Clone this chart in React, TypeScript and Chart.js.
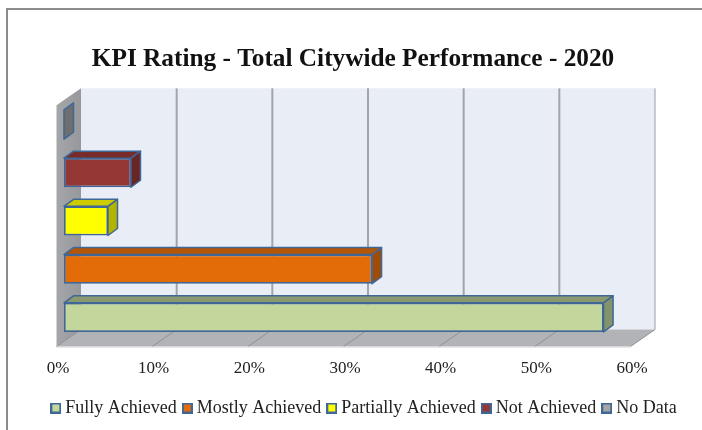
import React, { useEffect, useRef } from "react";
import { Chart, registerables } from "chart.js";

Chart.register(...registerables);

const categories = ["Fully Achieved", "Mostly Achieved", "Partially Achieved", "Not Achieved", "No Data"];
const values = [56.4, 32.2, 4.6, 7.0, 0];
const frontColors = ["#c3d69b", "#e36c09", "#ffff00", "#953735", "#a6a6a6"];
const topColors = ["#8a9a6e", "#b35607", "#cccc00", "#772c2a", "#6e6e6e"];
const sideColors = ["#84936a", "#a04c06", "#b3b300", "#682624", "#6e6e6e"];
const xTicks = [0, 10, 20, 30, 40, 50, 60];
const titleText = "KPI Rating - Total Citywide Performance - 2020";

const SERIF = "'Liberation Serif', 'Times New Roman', serif";
const EDGE = "#3f6797";

function swatch(color: string) {
  const c = document.createElement("canvas");
  c.width = 11;
  c.height = 11;
  const x = c.getContext("2d")!;
  x.fillStyle = color;
  x.fillRect(0, 0, 11, 11);
  x.strokeStyle = EDGE;
  x.lineWidth = 2;
  x.strokeRect(1, 1, 9, 9);
  return c;
}

function poly(ctx: CanvasRenderingContext2D, pts: number[][], fill: string, stroke?: string, lw = 1) {
  ctx.beginPath();
  pts.forEach((p, i) => (i ? ctx.lineTo(p[0], p[1]) : ctx.moveTo(p[0], p[1])));
  ctx.closePath();
  ctx.fillStyle = fill;
  ctx.fill();
  if (stroke) {
    ctx.strokeStyle = stroke;
    ctx.lineWidth = lw;
    ctx.lineJoin = "round";
    ctx.stroke();
  }
}

const box3d = {
  id: "box3d",
  afterLayout(chart: any) {
    // the reference legend and title sit a little right of the centre
    chart.legend.left += 15;
    chart.legend.right += 15;
    chart.titleBlock.left += 2;
    chart.titleBlock.right += 2;
  },
  beforeDraw(chart: any) {
    const ctx = chart.ctx as CanvasRenderingContext2D;
    ctx.fillStyle = "#ffffff";
    ctx.fillRect(0, 0, chart.width, chart.height);
    ctx.strokeStyle = "#8c8c8c";
    ctx.lineWidth = 2;
    ctx.beginPath();
    ctx.moveTo(7, chart.height);
    ctx.lineTo(7, 9);
    ctx.lineTo(chart.width, 9);
    ctx.stroke();
  },
  beforeDatasetsDraw(chart: any) {
    const ctx = chart.ctx as CanvasRenderingContext2D;
    const { left, top, bottom } = chart.chartArea;
    const xs = chart.scales.x;
    const fx = -7.5, fy = 5, bx = 17, by = -12; // front plane and back plane offsets
    const x0 = left;
    const xN = xs.getPixelForValue(60);
    ctx.save();
    // back wall
    poly(ctx, [[x0 + bx, top + by], [xN + bx, top + by], [xN + bx, bottom + by], [x0 + bx, bottom + by]], "#e9edf6");
    // floor
    poly(ctx, [[x0 + fx, bottom + fy], [x0 + bx, bottom + by], [xN + bx, bottom + by], [xN + fx, bottom + fy]], "#b1b3b7");
    // side wall
    const g = ctx.createLinearGradient(x0 + fx, 0, x0 + bx, 0);
    g.addColorStop(0, "#a5a6aa");
    g.addColorStop(1, "#96989c");
    poly(ctx, [[x0 + fx, top + fy], [x0 + bx, top + by], [x0 + bx, bottom + by], [x0 + fx, bottom + fy]], g as any);
    // grid lines
    xTicks.forEach((t, i) => {
      const p = xs.getPixelForValue(t);
      const inner = i > 0 && i < xTicks.length - 1;
      ctx.strokeStyle = "#8f9196";
      ctx.lineWidth = 1;
      ctx.beginPath();
      ctx.moveTo(p + fx, bottom + fy);
      ctx.lineTo(p + bx, bottom + by);
      ctx.stroke();
      if (i > 0) {
        ctx.strokeStyle = inner ? "#a2a4a8" : "#9a9c9f";
        ctx.lineWidth = inner ? 2 : 1;
        ctx.beginPath();
        ctx.moveTo(p + bx, bottom + by);
        ctx.lineTo(p + bx, top + by);
        ctx.stroke();
      }
    });
    ctx.strokeStyle = "#d0d2d6";
    ctx.lineWidth = 1;
    ctx.beginPath();
    ctx.moveTo(x0 + fx, bottom + fy + 0.5);
    ctx.lineTo(xN + fx, bottom + fy + 0.5);
    ctx.stroke();
    // depth faces of the bars, read from the bar elements
    const dx = 9.5, dy = -7;
    chart.getDatasetMeta(0).data.forEach((bar: any, i: number) => {
      const p = bar.getProps(["x", "y", "base", "height"]);
      const t = p.y - p.height / 2;
      const b = p.y + p.height / 2;
      if (values[i] > 0) {
        poly(ctx, [[p.base, t], [p.base + dx, t + dy], [p.x + dx, t + dy], [p.x, t]], topColors[i], EDGE, 1.5);
      }
      poly(ctx, [[p.x, t], [p.x + dx, t + dy], [p.x + dx, b + dy], [p.x, b]], sideColors[i], EDGE, 1.5);
    });
    ctx.restore();
  },
};

const hiddenAxis = (width: number, position: string) => ({
  position,
  display: true,
  border: { display: false },
  grid: { display: false },
  ticks: { display: false },
  afterFit: (s: any) => {
    s.width = width;
  },
});

export default function App() {
  const ref = useRef<HTMLCanvasElement>(null);
  useEffect(() => {
    const chart = new Chart(ref.current!, {
      type: "bar",
      data: {
        labels: categories,
        datasets: [
          {
            data: values,
            backgroundColor: frontColors,
            borderColor: EDGE,
            borderWidth: 1.7,
            borderSkipped: false,
            barPercentage: 29 / 48,
            categoryPercentage: 1,
          },
        ],
      },
      options: {
        indexAxis: "y",
        animation: false,
        responsive: false,
        layout: { padding: { left: 0, right: 0, top: 44, bottom: 3 } },
        scales: {
          x: {
            min: 0,
            max: 60,
            border: { display: false },
            grid: { display: false },
            afterBuildTicks: (s: any) => {
              s.ticks = xTicks.map((value) => ({ value }));
            },
            afterFit: (s: any) => {
              s.height = 47.5;
            },
            ticks: {
              callback: (v: any) => `${v}%`,
              color: "#222222",
              font: { family: SERIF, size: 17 },
              padding: 9,
              labelOffset: -6,
              maxRotation: 0,
            },
          },
          y: { ...hiddenAxis(64, "left"), reverse: true },
          y2: { ...hiddenAxis(64, "right"), type: "linear" },
        },
        plugins: {
          tooltip: { enabled: false },
          title: {
            display: true,
            text: titleText,
            color: "#111111",
            font: { family: SERIF, size: 25.3, weight: "bold" },
            padding: { top: 0, bottom: 26 },
          },
          legend: {
            display: true,
            position: "bottom",
            labels: {
              usePointStyle: true,
              pointStyleWidth: 1,
              boxHeight: 11,
              color: "#222222",
              font: { family: SERIF, size: 18 },
              padding: 10,
              generateLabels: () =>
                categories.map((text, i) => ({
                  text,
                  pointStyle: swatch(frontColors[i]),
                  fontColor: "#222222",
                  datasetIndex: 0,
                  index: i,
                })),
            },
          },
        },
      } as any,
      plugins: [box3d],
    });
    return () => chart.destroy();
  }, []);
  return (
    <div style={{ position: "absolute", left: 0, top: 0, width: 702, height: 430 }}>
      <canvas ref={ref} width={702} height={430} style={{ display: "block" }} />
    </div>
  );
}
